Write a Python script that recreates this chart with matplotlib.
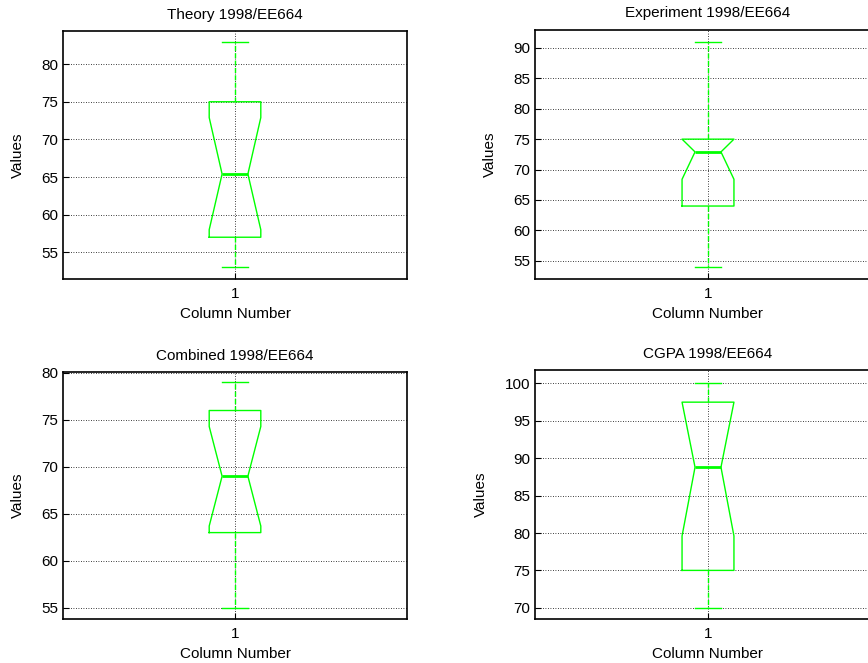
import matplotlib
matplotlib.use("Agg")
import matplotlib.pyplot as plt

plt.rcParams['font.family'] = ['Liberation Sans', 'DejaVu Sans']
plt.rcParams['font.size'] = 11

# per-panel summary stats
titles = ['Theory 1998/EE664', 'Experiment 1998/EE664',
          'Combined 1998/EE664', 'CGPA 1998/EE664']
whis_lo = [53, 54, 55, 70]
q1 = [57, 64, 63, 75]
ci_lo = [58.0, 68.4, 63.7, 79.6]
median = [65.4, 72.9, 69, 88.8]
ci_hi = [72.9, 75, 74.3, 97.5]
q3 = [75, 75, 76, 97.5]
whis_hi = [83, 91, 79, 100]
ylims = [(51.45, 84.4), (52.0, 92.95), (53.8, 80.1), (68.5, 101.8)]
yticks = [range(55, 81, 5), range(55, 91, 5), range(55, 81, 5), range(70, 101, 5)]

W, H = 868, 663
# axes rectangles in pixels: left, top, right, bottom
rects = [(63, 31, 407, 279), (535, 30, 881, 279),
         (63, 372, 407, 619), (535, 370, 881, 619)]

fig = plt.figure(figsize=(W / 100, H / 100), dpi=100)
green = (0, 1, 0)

for i in range(4):
    l, t, r, b = rects[i]
    ax = fig.add_axes([l / W, 1 - b / H, (r - l) / W, (b - t) / H])
    stats = [dict(med=median[i], q1=q1[i], q3=q3[i], whislo=whis_lo[i],
                  whishi=whis_hi[i], cilo=ci_lo[i], cihi=ci_hi[i], fliers=[])]
    ax.bxp(stats, positions=[1], widths=0.15, shownotches=True,
           showfliers=False,
           boxprops=dict(color=green, linewidth=1),
           whiskerprops=dict(color=green, linewidth=1, linestyle='--'),
           capprops=dict(color=green, linewidth=1),
           medianprops=dict(color=green, linewidth=2), zorder=3)
    ax.set_xlim(0.5, 1.5)
    ax.set_ylim(*ylims[i])
    ax.set_yticks(list(yticks[i]))
    ax.set_xticks([1])
    ax.set_xticklabels(['1'])
    ax.grid(True, color='black', linestyle=(0, (1, 2)), linewidth=0.6)
    ax.set_axisbelow(True)
    ax.tick_params(direction='in', length=4, labelsize=11)
    ax.tick_params(axis='x', pad=6)
    for s in ax.spines.values():
        s.set_linewidth(1.2)
    ax.set_title(titles[i], fontsize=11, pad=9)
    ax.set_xlabel('Column Number', fontsize=11, labelpad=4)
    ax.set_ylabel('Values', fontsize=11, labelpad=12)

fig.savefig('out.png', dpi=100)
